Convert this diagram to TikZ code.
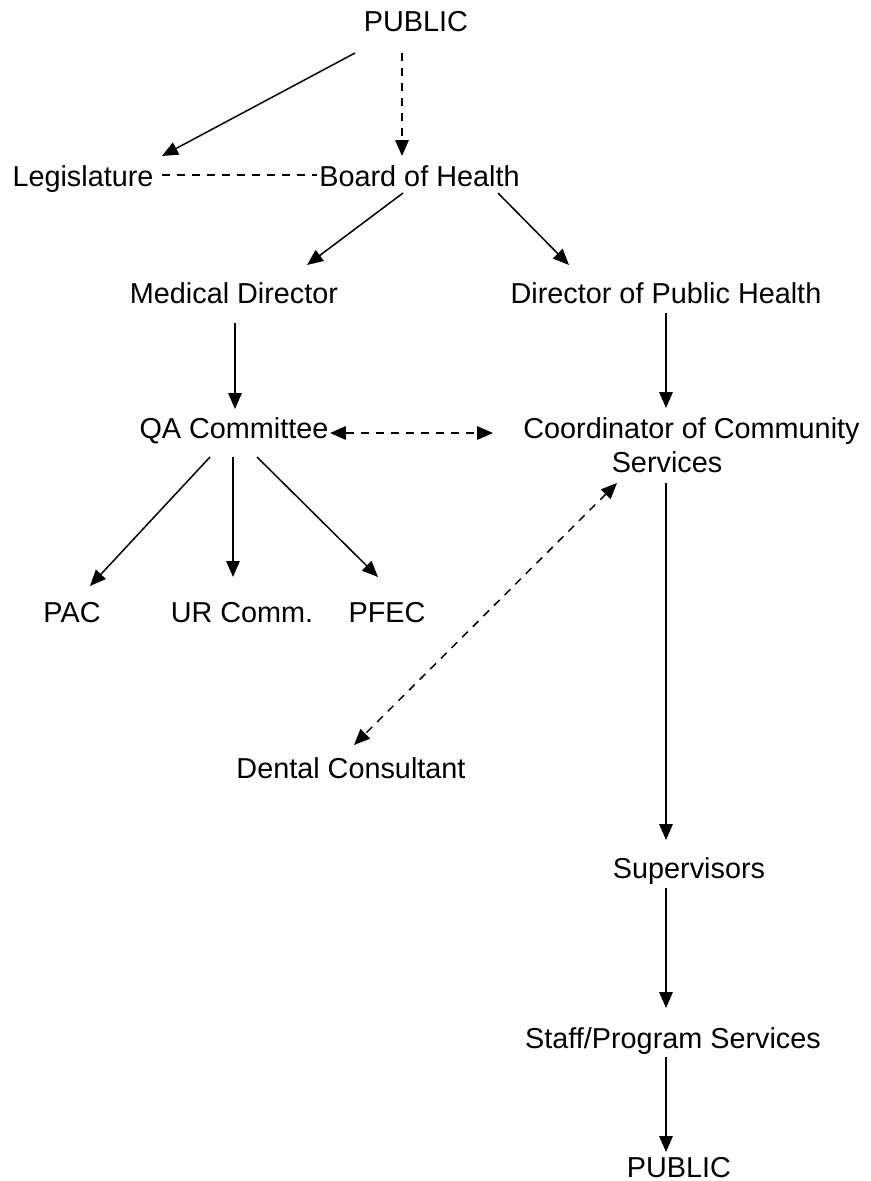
\documentclass[tikz,border=0pt]{standalone}
\usepackage{fontspec}
\setmainfont{Liberation Sans}
\usetikzlibrary{arrows.meta}
\begin{document}
\begin{tikzpicture}[x=0.02cm,y=-0.02cm,
  lbl/.style={inner sep=0pt, anchor=base, font=\fontsize{16.4pt}{19pt}\selectfont},
  tip/.tip={Triangle[length=0.32cm,width=0.27cm]},
  link/.style={line width=0.85pt, -tip},
  dashlink/.style={link, dash pattern=on 0.16cm off 0.14cm},
  twoway/.style={line width=0.85pt, tip-tip, dash pattern=on 0.16cm off 0.14cm},
  plainline/.style={line width=0.85pt, dash pattern=on 0.16cm off 0.14cm}]
  \useasboundingbox (0,0) rectangle (871,1181);

  % labels
  \node[lbl] (pubtop) at (416,31)   {PUBLIC};
  \node[lbl] (legis)  at (83,186)   {Legislature};
  \node[lbl] (board)  at (419.5,186){Board of Health};
  \node[lbl] (meddir) at (234,303)  {Medical Director};
  \node[lbl] (dph)    at (666,303)  {Director of Public Health};
  \node[lbl] (qa)     at (234,438)  {QA Committee};
  \node[lbl] (coord)  at (691.5,438){Coordinator of Community};
  \node[lbl] (coordb) at (667,472)  {Services};
  \node[lbl] (pac)    at (72,622)   {PAC};
  \node[lbl] (ur)     at (242,622)  {UR Comm.};
  \node[lbl] (pfec)   at (387,622)  {PFEC};
  \node[lbl] (dental) at (351,778)  {Dental Consultant};
  \node[lbl] (sup)    at (689,878)  {Supervisors};
  \node[lbl] (staff)  at (673,1048) {Staff/Program Services};
  \node[lbl] (pubbot) at (679,1177) {PUBLIC};

  % connector end points
  \coordinate (pubtopL) at (355,53);   \coordinate (legisT)  at (162,156);
  \coordinate (pubtopR) at (402,53);   \coordinate (boardT)  at (402,156);
  \coordinate (legisR)  at (162,175);  \coordinate (boardL)  at (317,175);
  \coordinate (boardSL) at (403,193);  \coordinate (meddirT) at (307,265);
  \coordinate (boardSR) at (498,193);  \coordinate (dphT)    at (569,265);
  \coordinate (meddirS) at (235,323);  \coordinate (qaT)     at (235,409);
  \coordinate (dphS)    at (666,313);  \coordinate (coordT)  at (666,408);
  \coordinate (qaR)     at (330,433);  \coordinate (coordL)  at (493,433);
  \coordinate (qaSL)    at (210,457);  \coordinate (pacT)    at (90,586);
  \coordinate (qaS)     at (233,457);  \coordinate (urT)     at (233,577);
  \coordinate (qaSR)    at (257,457);  \coordinate (pfecT)   at (378,577);
  \coordinate (coordSL) at (617,483);  \coordinate (dentalT) at (354,745);
  \coordinate (coordS)  at (666,483);  \coordinate (supT)    at (666,840);
  \coordinate (supS)    at (666,888);  \coordinate (staffT)  at (666,1008);
  \coordinate (staffS)  at (666,1057); \coordinate (pubbotT) at (666,1152);

  % connectors
  \draw[link]      (pubtopL) -- (legisT);
  \draw[dashlink]  (pubtopR) -- (boardT);
  \draw[plainline] (legisR) -- (boardL);
  \draw[link]      (boardSL) -- (meddirT);
  \draw[link]      (boardSR) -- (dphT);
  \draw[link]      (meddirS) -- (qaT);
  \draw[link]      (dphS) -- (coordT);
  \draw[twoway]    (qaR) -- (coordL);
  \draw[link]      (qaSL) -- (pacT);
  \draw[link]      (qaS) -- (urT);
  \draw[link]      (qaSR) -- (pfecT);
  \draw[twoway]    (coordSL) -- (dentalT);
  \draw[link]      (coordS) -- (supT);
  \draw[link]      (supS) -- (staffT);
  \draw[link]      (staffS) -- (pubbotT);
\end{tikzpicture}
\end{document}
